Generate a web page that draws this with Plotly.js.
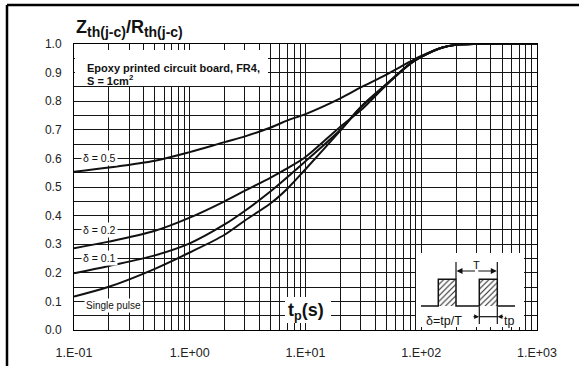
<!DOCTYPE html>
<html>
<head>
<meta charset="utf-8">
<script src="https://cdn.plot.ly/plotly-3.0.1.min.js"></script>
<style>html,body{margin:0;padding:0;background:#fff;}#chart{width:579px;height:366px;}</style>
</head>
<body>
<div id="chart"></div>
<script>
// ---- data ----
const tp       = [0.1, 0.2, 0.5, 1, 2, 3, 5, 7, 10, 20, 30, 50, 80, 100, 150, 200, 300, 1000];
const delta05  = [0.553, 0.568, 0.592, 0.622, 0.657, 0.677, 0.708, 0.733, 0.755, 0.810, 0.848, 0.893, 0.938, 0.958, 0.987, 0.997, 1.0, 1.0];
const delta02  = [0.286, 0.309, 0.347, 0.393, 0.450, 0.487, 0.533, 0.566, 0.605, 0.711, 0.768, 0.857, 0.930, 0.955, 0.987, 0.997, 1.0, 1.0];
const delta01  = [0.198, 0.224, 0.261, 0.303, 0.369, 0.417, 0.485, 0.535, 0.590, 0.700, 0.780, 0.860, 0.932, 0.955, 0.987, 0.997, 1.0, 1.0];
const single   = [0.117, 0.151, 0.214, 0.271, 0.333, 0.383, 0.443, 0.495, 0.562, 0.697, 0.778, 0.858, 0.930, 0.955, 0.987, 0.997, 1.0, 1.0];

const xTickVals = [];
const xTickText = [];
const decadeLabels = ["1.E-01", "1.E+00", "1.E+01", "1.E+02", "1.E+03"];
[0.1, 1, 10, 100].forEach((d, i) => {
  for (let k = 1; k <= 9; k++) { xTickVals.push(d * k); xTickText.push(k === 1 ? decadeLabels[i] : ""); }
});
xTickVals.push(1000); xTickText.push(decadeLabels[4]);

const yTickVals = [];
const yTickText = [];
for (let i = 0; i <= 20; i++) { yTickVals.push(i / 20); yTickText.push(i % 2 === 0 ? (i / 20).toFixed(1) : ""); }

const FONT = "Liberation Sans, Arial, Helvetica, sans-serif";
const curve = (y) => ({
  x: tp, y: y, type: "scatter", mode: "lines",
  line: {color: "#111", width: 2, shape: "spline", smoothing: 0.9},
  hoverinfo: "skip", showlegend: false
});

// decoration helpers in pixel coordinates (overlay axes x2/y2 map 1:1 to pixels)
const rectTrace = (x0, y0, x1, y1, extra) => Object.assign({
  x: [x0, x1, x1, x0, x0], y: [y0, y0, y1, y1, y0], xaxis: "x2", yaxis: "y2",
  type: "scatter", mode: "lines", fill: "toself", fillcolor: "#fff",
  line: {width: 0, color: "rgba(0,0,0,0)"}, hoverinfo: "skip", showlegend: false
}, extra || {});

const hatch = {shape: "/", fgcolor: "#222", bgcolor: "#fff", size: 4, solidity: 0.25};

const traces = [
  curve(delta05), curve(delta02), curve(delta01), curve(single),
  rectTrace(75, 50, 268, 86),        // epoxy box
  rectTrace(285, 297, 331, 323),     // tp(s) box
  rectTrace(416, 253, 524, 327),     // inset box
  rectTrace(438.3, 279.3, 456, 306, {fillpattern: hatch}),
  rectTrace(479.3, 279.3, 497.3, 306, {fillpattern: hatch})
];

const seg = (x0, y0, x1, y1, w) => ({type: "line", xref: "x2", yref: "y2", x0: x0, y0: y0, x1: x1, y1: y1,
  line: {color: "#111", width: w || 1.2}, layer: "above"});

const shapes = [
  // outer frame (top and left)
  {type: "line", xref: "paper", yref: "paper", x0: (7 - 74) / 463, x1: (579 - 74) / 463, y0: (330 - 5) / 286, y1: (330 - 5) / 286, line: {color: "#000", width: 2.5}},
  {type: "line", xref: "paper", yref: "paper", x0: (7 - 74) / 463, x1: (7 - 74) / 463, y0: (330 - 5) / 286, y1: (330 - 367) / 286, line: {color: "#000", width: 2.5}},
  // pulse waveform
  {type: "path", xref: "x2", yref: "y2", layer: "above",
   path: "M421,306 L438.3,306 L438.3,279.3 L456,279.3 L456,306 L479.3,306 L479.3,279.3 L497.3,279.3 L497.3,306 L515,306",
   line: {color: "#111", width: 1.5}},
  // T markers
  seg(456, 262, 456, 279), seg(497.3, 262, 497.3, 279),
  // tp markers
  seg(479.3, 307, 479.3, 324), seg(497.3, 307, 497.3, 324),
  seg(479.3, 316.7, 497.3, 316.7)
];

const ann = (text, x, y, size, opts) => Object.assign({
  text: text, x: x, y: y, xref: "x2", yref: "y2", showarrow: false,
  font: {family: FONT, size: size, color: "#111"}
}, opts || {});

const arrow = (x, y, ax, sz) => ({x: x, y: y, xref: "x2", yref: "y2", ax: ax, ay: 0, axref: "pixel", ayref: "pixel",
  text: "", showarrow: true, arrowhead: 2, arrowsize: sz || 1, arrowwidth: 1.2, arrowcolor: "#111"});

const SUB = (t) => "<sub><span style=\"font-size:14px\">" + t + "</span></sub>";

const annotations = [
  {text: "<b>Z" + SUB("th(j-c)") + "/R" + SUB("th(j-c)") + "</b>", xref: "paper", yref: "paper", x: (74 - 74) / 463, y: (330 - 15) / 286,
   xanchor: "left", yanchor: "top", showarrow: false, font: {family: FONT, size: 18, color: "#111"}},
  ann("<b>Epoxy printed circuit board, FR4,</b>", 85, 67.5, 11, {xanchor: "left"}),
  ann("<b>S = 1cm<sup>2</sup></b>", 85, 80, 11, {xanchor: "left"}),
  ann("δ = 0.5", 99, 158, 10.5, {bgcolor: "#fff", borderpad: 1}),
  ann("δ = 0.2", 99, 229.5, 10.5, {bgcolor: "#fff", borderpad: 1}),
  ann("δ = 0.1", 99, 257.5, 10.5, {bgcolor: "#fff", borderpad: 1}),
  ann("Single pulse", 113, 305.5, 10, {bgcolor: "#fff", borderpad: 1}),
  ann("<b>t<sub>p</sub>(s)</b>", 306, 311, 18),
  ann("T", 476.7, 265, 11),
  ann("δ=tp/T", 444, 320.5, 12.5),
  ann("tp", 508.5, 320.5, 12.5),
  arrow(456.5, 271, 20), arrow(496.8, 271, -20),
  arrow(479, 316.7, -7, 0.8), arrow(497.6, 316.7, 7, 0.8)
];

const layout = {
  width: 579, height: 366,
  margin: {l: 74, r: 42, t: 44, b: 36, pad: 0},
  paper_bgcolor: "#fff", plot_bgcolor: "#fff",
  showlegend: false,
  font: {family: FONT, size: 12, color: "#222"},
  xaxis: {
    type: "log", range: [-1, 3], tickmode: "array", tickvals: xTickVals, ticktext: xTickText,
    showgrid: true, gridcolor: "#151515", gridwidth: 1, zeroline: false,
    showline: true, linecolor: "#000", linewidth: 1, mirror: true, ticks: "",
    tickfont: {family: FONT, size: 12.5, color: "#222"}, ticklabelstandoff: 11, fixedrange: true
  },
  yaxis: {
    range: [0, 1], tickmode: "array", tickvals: yTickVals, ticktext: yTickText,
    showgrid: true, gridcolor: "#151515", gridwidth: 1, zeroline: false,
    showline: true, linecolor: "#000", linewidth: 1, mirror: true, ticks: "",
    tickfont: {family: FONT, size: 12, color: "#222"}, ticklabelstandoff: 9, fixedrange: true
  },
  xaxis2: {overlaying: "x", anchor: "y2", range: [74, 537], visible: false, fixedrange: true},
  yaxis2: {overlaying: "y", anchor: "x2", range: [330, 44], visible: false, fixedrange: true},
  shapes: shapes,
  annotations: annotations
};

Plotly.newPlot("chart", traces, layout, {displayModeBar: false, staticPlot: true});
</script>
</body>
</html>
